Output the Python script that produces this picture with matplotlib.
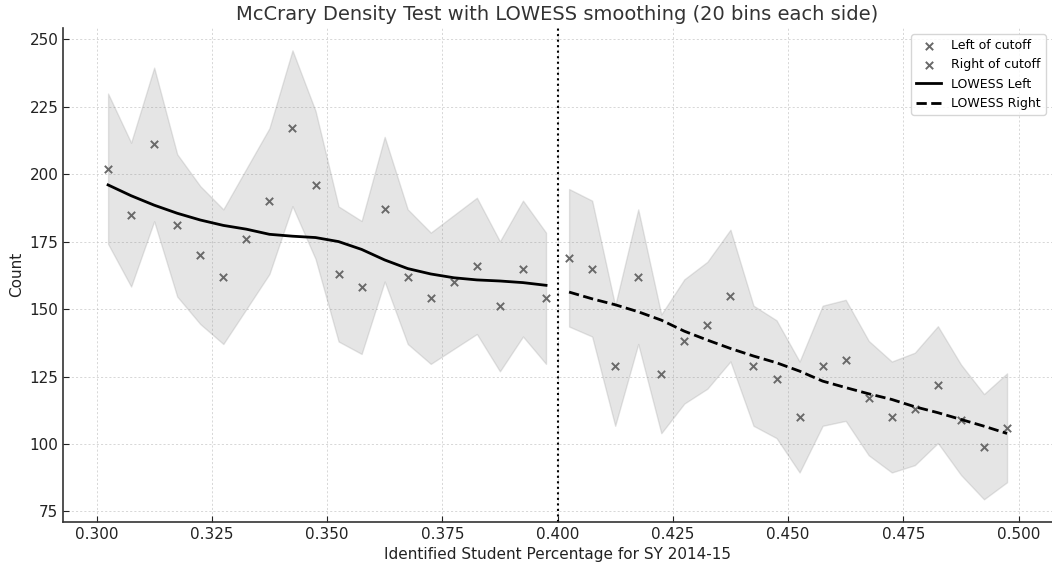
import numpy as np
import matplotlib
matplotlib.use("Agg")
import matplotlib.pyplot as plt

# Bin centers
left_x = [0.3025, 0.3075, 0.3125, 0.3175, 0.3225, 0.3275, 0.3325, 0.3375, 0.3425, 0.3475,
          0.3525, 0.3575, 0.3625, 0.3675, 0.3725, 0.3775, 0.3825, 0.3875, 0.3925, 0.3975]
right_x = [0.4025, 0.4075, 0.4125, 0.4175, 0.4225, 0.4275, 0.4325, 0.4375, 0.4425, 0.4475,
           0.4525, 0.4575, 0.4625, 0.4675, 0.4725, 0.4775, 0.4825, 0.4875, 0.4925, 0.4975]

# Counts per bin
left_counts = [202, 185, 211, 181, 170, 162, 176, 190, 217, 196,
               163, 158, 187, 162, 154, 160, 166, 151, 165, 154]
right_counts = [169, 165, 129, 162, 126, 138, 144, 155, 129, 124,
                110, 129, 131, 117, 110, 113, 122, 109, 99, 106]

# LOWESS smoothed values
lowess_left = [196.0, 192.0, 188.5, 185.5, 183.0, 181.0, 179.6, 177.7, 177.0, 176.5,
               175.0, 172.1, 168.2, 165.0, 163.0, 161.6, 160.8, 160.4, 159.8, 158.8]
lowess_right = [156.3, 153.8, 151.6, 149.0, 145.9, 141.8, 138.5, 135.4, 132.6, 130.1,
                127.0, 123.3, 120.9, 118.6, 116.5, 113.8, 111.6, 109.1, 106.6, 103.9]

cutoff = 0.4
x_ticks = [0.300, 0.325, 0.350, 0.375, 0.400, 0.425, 0.450, 0.475, 0.500]
y_ticks = [75, 100, 125, 150, 175, 200, 225, 250]

lc = np.array(left_counts, dtype=float)
rc = np.array(right_counts, dtype=float)
l_lo, l_hi = lc - 1.96 * np.sqrt(lc), lc + 1.96 * np.sqrt(lc)
r_lo, r_hi = rc - 1.96 * np.sqrt(rc), rc + 1.96 * np.sqrt(rc)

plt.rcParams['font.family'] = ['DejaVu Sans']
fig = plt.figure(figsize=(10.52, 5.69), dpi=100)
ax = fig.add_axes([0.060, 0.083, 0.940, 0.868])

ax.fill_between(left_x, l_lo, l_hi, color='gray', alpha=0.2)
ax.fill_between(right_x, r_lo, r_hi, color='gray', alpha=0.2)
ax.scatter(left_x, left_counts, marker='x', color='dimgray', s=28, linewidths=1.4,
           label='Left of cutoff', zorder=3)
ax.scatter(right_x, right_counts, marker='x', color='dimgray', s=28, linewidths=1.4,
           label='Right of cutoff', zorder=3)
ax.plot(left_x, lowess_left, color='black', lw=2, ls='-', label='LOWESS Left', zorder=4)
ax.plot(right_x, lowess_right, color='black', lw=2, ls='--', label='LOWESS Right', zorder=4)
ax.axvline(cutoff, color='black', ls=':', lw=1.5)

ax.set_xticks(x_ticks)
ax.set_yticks(y_ticks)
ax.set_xticklabels([f"{t:.3f}" for t in x_ticks])
ax.grid(True, ls=(0, (3, 3)), lw=0.5, color='#c8c8c8')
ax.set_axisbelow(True)
for s in ['top', 'right']:
    ax.spines[s].set_visible(False)
for s in ['left', 'bottom']:
    ax.spines[s].set_color('#333333')
    ax.spines[s].set_linewidth(1.2)
ax.tick_params(direction='in', labelsize=11, colors='#222222', length=4)

ax.set_title('McCrary Density Test with LOWESS smoothing (20 bins each side)',
             fontsize=14, color='#333333')
ax.set_xlabel('Identified Student Percentage for SY 2014-15', fontsize=11, color='#222222')
ax.set_ylabel('Count', fontsize=11, color='#222222')
ax.legend(loc='upper right', fontsize=9, frameon=True, edgecolor='#cccccc')

fig.savefig('out.png', dpi=100)
